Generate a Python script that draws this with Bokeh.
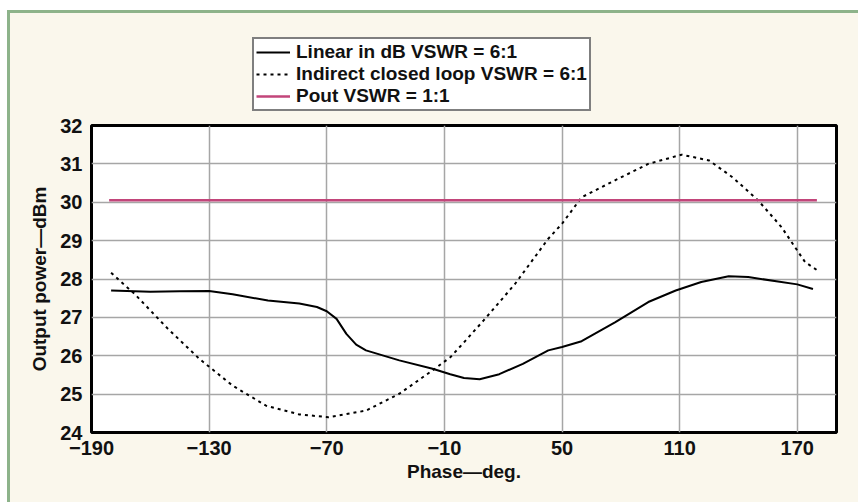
from bokeh.plotting import figure
from bokeh.layouts import column
from bokeh.models import FixedTicker, Legend, LegendItem, Range1d
from bokeh.embed import file_html
from bokeh.resources import INLINE

# ---- data ----
phase_linear = [-180, -160, -145, -130, -118, -100, -84, -75, -70, -65, -60, -55, -50, -33, -16,
                -7, 0, 8, 18, 30, 43, 50, 60, 77, 94, 108, 121, 135, 145, 170, 178]
power_linear = [27.70, 27.67, 27.68, 27.69, 27.60, 27.44, 27.36, 27.27, 27.16, 26.96, 26.57, 26.29,
                26.14, 25.88, 25.66, 25.52, 25.42, 25.39, 25.52, 25.79, 26.14, 26.23, 26.38, 26.87,
                27.40, 27.70, 27.92, 28.07, 28.05, 27.86, 27.74]

phase_indirect = [-180, -168, -151, -135, -118, -101, -84, -69, -50, -33, -16, -7, 0, 10, 26, 43,
                  50, 60, 77, 94, 111, 125, 137, 150, 162, 170, 174, 181]
power_indirect = [28.16, 27.61, 26.70, 25.92, 25.22, 24.70, 24.47, 24.40, 24.57, 25.01, 25.62,
                  25.96, 26.35, 26.92, 27.87, 29.05, 29.44, 30.13, 30.57, 31.00, 31.24, 31.09,
                  30.65, 30.05, 29.35, 28.74, 28.44, 28.20]

phase_pout = [-181, 180]
power_pout = [30.05, 30.05]

x_ticks = [-190, -130, -70, -10, 50, 110, 170]
x_tick_labels = ["\u2212190", "\u2212130", "\u221270", "\u221210", "50", "110", "170"]
y_ticks = [24, 25, 26, 27, 28, 29, 30, 31, 32]

series_names = ["Linear in dB VSWR = 6:1",
                "Indirect closed loop VSWR = 6:1",
                "Pout VSWR = 1:1"]

FONT = "Liberation Sans"
CREAM = "#faf7ec"
GREEN = "#8db38a"
PINK = "#c2457a"
DASH = "3 4"

# ---------------- main chart ----------------
p = figure(width=848, height=389, output_backend="svg", toolbar_location=None,
           x_range=Range1d(-190, 190), y_range=Range1d(24, 32),
           min_border_left=81, min_border_right=22, min_border_top=12, min_border_bottom=70)

p.background_fill_color = "white"
p.border_fill_color = CREAM
p.outline_line_color = "black"
p.outline_line_width = 3

p.xaxis.ticker = FixedTicker(ticks=x_ticks)
p.yaxis.ticker = FixedTicker(ticks=y_ticks)
p.xaxis.major_label_overrides = {t: l for t, l in zip(x_ticks, x_tick_labels)}

for ax in (p.xaxis[0], p.yaxis[0]):
    ax.axis_line_color = None
    ax.major_tick_line_color = None
    ax.minor_tick_line_color = None
    ax.major_label_text_font = FONT
    ax.major_label_text_font_style = "bold"
    ax.major_label_text_font_size = "20px"
    ax.major_label_text_color = "#111111"
    ax.axis_label_text_font = FONT
    ax.axis_label_text_font_style = "bold"
    ax.axis_label_text_font_size = "19px"
    ax.axis_label_text_color = "#111111"

p.xaxis.axis_label = "Phase\u2014deg."
p.yaxis.axis_label = "Output power\u2014dBm"
p.xaxis.major_label_standoff = 2
p.yaxis.major_label_standoff = 3
p.xaxis.axis_label_standoff = 3
p.yaxis.axis_label_standoff = 7

p.grid.grid_line_color = "#a6a6a6"
p.grid.grid_line_width = 1.5

p.line(phase_linear, power_linear, line_color="black", line_width=2)
p.line(phase_indirect, power_indirect, line_color="black", line_width=2, line_dash=DASH)
p.line(phase_pout, power_pout, line_color=PINK, line_width=2.5)

# ---------------- legend strip above the chart ----------------
# same series drawn outside this strip's view, only so that the legend has its glyphs
lg = figure(width=848, height=100, output_backend="svg", toolbar_location=None,
            x_range=Range1d(1000, 1001), y_range=Range1d(1000, 1001),
            min_border_left=0, min_border_right=0, min_border_top=0, min_border_bottom=0)
lg.axis.visible = False
lg.grid.visible = False
lg.background_fill_color = CREAM
lg.border_fill_color = CREAM
lg.outline_line_color = None
l1 = lg.line(phase_linear, power_linear, line_color="black", line_width=2)
l2 = lg.line(phase_indirect, power_indirect, line_color="black", line_width=2, line_dash=DASH)
l3 = lg.line(phase_pout, power_pout, line_color=PINK, line_width=2.5)

legend = Legend(items=[LegendItem(label=series_names[0], renderers=[l1]),
                       LegendItem(label=series_names[1], renderers=[l2]),
                       LegendItem(label=series_names[2], renderers=[l3])],
                location=(161, 2))
legend.label_text_font = FONT
legend.label_text_font_style = "bold"
legend.label_text_font_size = "19px"
legend.label_text_color = "#111111"
legend.border_line_color = "black"
legend.border_line_width = 2.5
legend.background_fill_color = "white"
legend.background_fill_alpha = 1
legend.glyph_width = 34
legend.glyph_height = 22
legend.label_height = 22
legend.label_standoff = 6
legend.padding = 2
legend.spacing = 0
legend.margin = 0
lg.add_layout(legend, "center")

page = column(lg, p, spacing=0,
              styles={"margin-left": "7px", "margin-top": "10px",
                      "border-top": f"3px solid {GREEN}", "border-left": f"3px solid {GREEN}",
                      "background-color": CREAM})

open("out.html", "w").write(file_html(page, INLINE))
